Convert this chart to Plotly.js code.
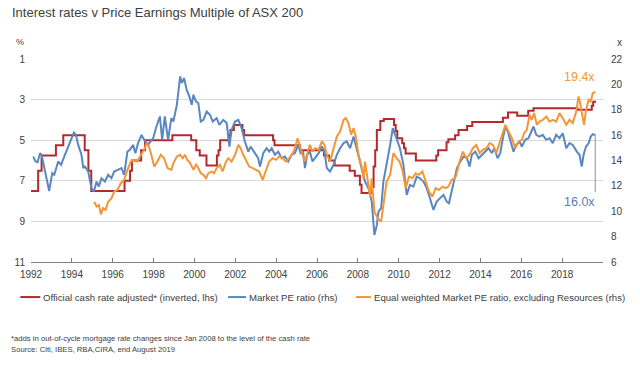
<!DOCTYPE html>
<html>
<head>
<meta charset="utf-8">
<script src="https://cdn.plot.ly/plotly-3.0.1.min.js"></script>
<style>
html,body{margin:0;padding:0;background:#fff;}
#chart{width:640px;height:367px;}
</style>
</head>
<body>
<div id="chart"></div>
<script>
// ---- Data (decimal years) ----
const cashX = [1992.0,1992.35,1992.52,1993.22,1993.58,1994.63,1994.81,1994.95,1996.58,1996.85,1996.94,1997.39,1997.58,1998.92,1999.84,2000.09,2000.26,2000.59,2001.1,2001.18,2001.26,2001.68,2001.76,2001.93,2002.35,2002.43,2003.85,2003.92,2005.17,2006.34,2006.59,2006.86,2007.6,2007.85,2008.1,2008.18,2008.68,2008.77,2008.85,2008.93,2009.1,2009.27,2009.77,2009.85,2009.93,2010.17,2010.26,2010.34,2010.84,2011.84,2011.93,2012.34,2012.43,2012.76,2012.93,2013.35,2013.6,2015.1,2015.35,2015.8,2016.34,2016.6,2018.75,2019.45,2019.52,2019.66];
const cashRate = [7.5,6.5,5.75,5.25,4.75,5.5,6.5,7.5,7.0,6.5,6.0,5.5,5.0,4.75,5.0,5.5,5.75,6.25,5.75,5.5,5.0,4.75,4.5,4.25,4.5,4.75,5.0,5.25,5.5,5.75,6.0,6.25,6.5,6.75,7.2,7.6,7.3,6.3,5.5,4.5,4.05,3.95,4.25,4.55,4.9,5.15,5.4,5.65,6.0,5.75,5.5,5.1,4.95,4.75,4.5,4.3,4.1,3.9,3.63,3.8,3.55,3.42,3.5,3.3,3.1,3.1];

const peX = [1992.11,1992.22,1992.32,1992.44,1992.52,1992.68,1992.89,1993.04,1993.14,1993.33,1993.47,1993.66,1993.82,1993.98,1994.10,1994.20,1994.31,1994.47,1994.56,1994.64,1994.80,1994.96,1995.08,1995.21,1995.32,1995.45,1995.62,1995.78,1995.94,1996.07,1996.27,1996.43,1996.56,1996.72,1996.84,1997.00,1997.11,1997.24,1997.41,1997.49,1997.73,1997.98,1998.14,1998.31,1998.42,1998.55,1998.71,1998.87,1998.97,1999.14,1999.30,1999.38,1999.49,1999.62,1999.75,1999.87,1999.95,2000.08,2000.19,2000.31,2000.44,2000.60,2000.76,2000.90,2001.09,2001.22,2001.41,2001.58,2001.71,2001.82,2001.99,2002.15,2002.31,2002.47,2002.64,2002.75,2002.96,2003.12,2003.21,2003.37,2003.53,2003.66,2003.78,2003.94,2004.10,2004.27,2004.43,2004.59,2004.76,2004.92,2005.08,2005.20,2005.32,2005.41,2005.52,2005.65,2005.78,2005.91,2006.08,2006.24,2006.37,2006.48,2006.64,2006.81,2006.97,2007.13,2007.30,2007.46,2007.62,2007.79,2007.90,2008.03,2008.19,2008.35,2008.52,2008.68,2008.81,2008.93,2009.01,2009.14,2009.25,2009.41,2009.58,2009.71,2009.82,2009.95,2010.06,2010.23,2010.39,2010.55,2010.72,2010.88,2011.04,2011.21,2011.37,2011.53,2011.70,2011.86,2012.02,2012.19,2012.35,2012.46,2012.59,2012.75,2012.85,2013.02,2013.18,2013.34,2013.47,2013.58,2013.75,2013.91,2014.07,2014.24,2014.40,2014.56,2014.68,2014.84,2014.97,2015.10,2015.22,2015.34,2015.49,2015.62,2015.75,2015.91,2016.03,2016.19,2016.35,2016.52,2016.60,2016.73,2016.89,2017.05,2017.22,2017.38,2017.54,2017.71,2017.87,2018.03,2018.20,2018.36,2018.52,2018.72,2018.85,2018.96,2019.05,2019.17,2019.30,2019.40,2019.50,2019.62];
const pe = [14.31,13.92,13.87,14.58,14.45,13.13,11.6,13.0,12.87,13.92,13.66,14.45,15.1,15.76,16.2,16.02,15.23,14.45,13.4,13.52,13.13,11.82,11.55,12.34,11.94,12.6,12.34,12.87,12.6,13.13,13.26,13.4,12.87,14.7,14.84,15.23,14.58,15.37,16.02,15.76,15.23,15.76,16.68,17.47,15.63,17.47,15.63,17.34,17.07,18.39,20.63,20.1,20.5,19.58,19.05,18.39,19.18,18.65,18.53,17.07,17.2,17.86,17.6,17.07,17.34,16.81,17.2,16.95,15.1,16.42,17.07,17.2,16.55,15.5,14.7,15.1,14.58,14.18,13.52,14.58,14.97,14.7,14.97,14.45,14.7,14.18,14.31,13.92,14.45,14.58,15.23,14.58,14.7,13.4,14.45,14.7,13.92,14.18,14.58,15.1,14.7,13.4,13.13,13.66,14.45,14.97,15.37,15.5,14.97,15.89,15.23,14.45,13.4,12.34,11.82,10.76,8.13,8.92,9.97,10.24,12.34,13.66,15.23,16.55,16.02,15.5,14.97,13.66,11.29,12.08,11.94,12.73,12.6,12.34,11.82,11.03,10.1,10.76,11.03,11.29,10.76,10.63,11.55,12.87,13.4,13.92,14.31,14.18,13.52,14.45,14.7,14.18,14.45,14.7,14.97,14.58,14.97,14.18,14.58,15.76,16.68,16.28,15.5,14.7,15.23,15.5,15.1,15.63,15.76,16.42,16.68,16.02,15.89,16.02,15.63,15.76,15.37,16.02,15.76,16.15,14.97,15.37,15.23,14.7,14.45,13.52,14.45,15.1,15.37,15.89,16.08,16.0];

const ewX = [1995.09,1995.21,1995.32,1995.42,1995.53,1995.65,1995.78,1995.94,1996.07,1996.23,1996.40,1996.56,1996.72,1996.89,1997.05,1997.21,1997.38,1997.54,1997.65,1997.77,1997.89,1998.03,1998.19,1998.35,1998.52,1998.68,1998.87,1998.97,1999.14,1999.30,1999.43,1999.54,1999.65,1999.79,1999.95,2000.08,2000.19,2000.31,2000.44,2000.57,2000.68,2000.85,2000.96,2001.09,2001.25,2001.38,2001.55,2001.66,2001.82,2001.99,2002.15,2002.26,2002.39,2002.56,2002.68,2002.85,2003.01,2003.17,2003.34,2003.50,2003.66,2003.83,2003.99,2004.15,2004.32,2004.48,2004.64,2004.81,2004.92,2005.05,2005.16,2005.29,2005.41,2005.52,2005.65,2005.78,2005.91,2006.08,2006.24,2006.37,2006.48,2006.64,2006.81,2006.97,2007.13,2007.30,2007.41,2007.54,2007.67,2007.79,2007.90,2008.03,2008.16,2008.28,2008.35,2008.49,2008.60,2008.68,2008.81,2008.97,2009.14,2009.25,2009.41,2009.58,2009.74,2009.90,2010.04,2010.18,2010.34,2010.50,2010.67,2010.83,2010.99,2011.16,2011.32,2011.48,2011.65,2011.81,2011.97,2012.14,2012.30,2012.43,2012.59,2012.75,2012.82,2012.98,2013.14,2013.31,2013.47,2013.63,2013.80,2013.96,2014.12,2014.29,2014.45,2014.61,2014.78,2014.94,2015.10,2015.22,2015.38,2015.54,2015.70,2015.87,2016.03,2016.14,2016.27,2016.40,2016.51,2016.63,2016.76,2016.89,2017.05,2017.22,2017.38,2017.54,2017.71,2017.87,2018.03,2018.20,2018.36,2018.52,2018.69,2018.80,2018.88,2018.96,2019.07,2019.17,2019.30,2019.40,2019.50,2019.62];
const ewPe = [10.76,10.37,10.5,9.76,10.24,10.1,10.76,11.03,11.55,11.68,12.21,12.47,13.26,13.92,14.05,13.92,14.45,14.84,15.37,15.1,14.45,13.52,13.92,14.45,14.18,13.4,13.26,13.79,14.31,14.45,14.18,14.45,14.05,13.79,13.26,13.66,13.4,13.0,12.87,12.6,13.0,13.13,13.0,13.4,13.66,13.13,13.92,14.18,13.92,14.45,15.23,14.97,14.45,13.92,13.52,13.4,13.26,13.13,12.47,13.26,13.92,14.18,14.05,14.31,14.18,13.92,14.18,14.58,14.97,15.76,15.1,14.45,13.92,14.58,15.23,14.7,14.97,14.84,15.5,15.23,14.45,13.92,14.97,15.89,16.28,17.2,17.34,16.95,16.02,16.55,15.89,14.45,13.66,12.6,13.92,12.34,11.15,12.6,9.97,9.45,9.18,10.5,12.34,12.87,14.58,14.18,13.92,13.26,11.82,12.73,12.6,13.0,12.87,13.13,12.34,11.55,11.15,11.82,11.68,11.94,11.82,11.94,12.47,12.6,12.87,13.92,14.7,14.18,14.45,14.97,15.23,14.58,14.84,14.97,15.37,15.23,14.58,15.37,16.15,16.81,16.28,15.76,14.97,15.5,15.63,16.15,16.42,17.6,17.2,17.74,16.81,17.07,17.2,17.47,17.07,17.2,17.07,17.74,17.34,16.81,17.2,16.95,17.86,19.05,18.53,17.86,16.81,18.0,18.79,18.65,19.31,19.4];

const seriesNames = ["Official cash rate adjusted* (inverted, lhs)", "Market PE ratio (rhs)", "Equal weighted Market PE ratio, excluding Resources (rhs)"];
const xTickVals = [1992,1994,1996,1998,2000,2002,2004,2006,2008,2010,2012,2014,2016,2018,2020];
const xTickText = ["1992","1994","1996","1998","2000","2002","2004","2006","2008","2010","2012","2014","2016","2018",""];
const leftTicks = [1,3,5,7,9,11];
const rightTicks = [6,8,10,12,14,16,18,20,22];
const peLabels = ["19.4x","16.0x"];

const RED = "#b3292e", BLUE = "#5b87c0", ORANGE = "#f39638";
const COLORS = [RED, BLUE, ORANGE];
const FONT = "Liberation Sans, Arial, sans-serif";

const traces = [
  {x: cashX, y: cashRate, name: seriesNames[0], type: "scatter", mode: "lines",
   line: {color: RED, width: 2, shape: "hv"}, yaxis: "y"},
  {x: peX, y: pe, name: seriesNames[1], type: "scatter", mode: "lines",
   line: {color: BLUE, width: 2}, yaxis: "y2"},
  {x: ewX, y: ewPe, name: seriesNames[2], type: "scatter", mode: "lines",
   line: {color: ORANGE, width: 2}, yaxis: "y2"}
];

const lastPe = pe[pe.length-1], lastX = peX[peX.length-1];

// plot area in pixels: x 30.7..603.3, y 59.3..262
const PL = 30.7, PW = 572.6, PB = 262, PH = 202.7;
const px = v => (v - PL) / PW;
const py = v => (PB - v) / PH;

// manual legend positions (pixels)
const legY = 297;
const legItems = [[20, 40], [228, 246], [356, 371]];

const shapes = [
  {type: "line", xref: "x", yref: "y2", x0: lastX, x1: lastX, y0: lastPe, y1: 11.5,
   line: {color: "#7f95b0", width: 1}}
];
const annotations = [
  {xref: "paper", yref: "paper", x: px(10), y: py(13), xanchor: "left", yanchor: "middle",
   text: "Interest rates v Price Earnings Multiple of ASX 200", showarrow: false,
   font: {family: FONT, size: 13, color: "#404040"}},
  {xref: "paper", yref: "paper", x: px(20), y: py(42.5), xanchor: "center", yanchor: "middle",
   text: "%", showarrow: false, font: {family: FONT, size: 9, color: "#404040"}},
  {xref: "paper", yref: "paper", x: px(619.5), y: py(42.5), xanchor: "center", yanchor: "middle",
   text: "x", showarrow: false, font: {family: FONT, size: 10, color: "#404040"}},
  {xref: "x", yref: "y2", x: lastX - 0.75, y: 20.6, xanchor: "center", yanchor: "middle",
   text: peLabels[0], showarrow: false, font: {family: FONT, size: 12.5, color: ORANGE}},
  {xref: "x", yref: "y2", x: lastX - 0.75, y: 10.75, xanchor: "center", yanchor: "middle",
   text: peLabels[1], showarrow: false, font: {family: FONT, size: 12.5, color: "#5f7fa8"}},
  {xref: "paper", yref: "paper", x: px(9), y: py(338.5), xanchor: "left", yanchor: "middle",
   text: "*adds in out-of-cycle mortgage rate changes since Jan 2008 to the level of the cash rate",
   showarrow: false, font: {family: FONT, size: 7.7, color: "#404040"}},
  {xref: "paper", yref: "paper", x: px(9), y: py(349), xanchor: "left", yanchor: "middle",
   text: "Source: Citi, IBES, RBA,CIRA, end August 2019",
   showarrow: false, font: {family: FONT, size: 7.7, color: "#404040"}}
];
legItems.forEach((it, i) => {
  shapes.push({type: "line", xref: "paper", yref: "paper", x0: px(it[0]), x1: px(it[1]),
    y0: py(legY), y1: py(legY), line: {color: COLORS[i], width: 2}});
  annotations.push({xref: "paper", yref: "paper", x: px(it[1] + 1), y: py(legY),
    xanchor: "left", yanchor: "middle", text: seriesNames[i], showarrow: false,
    font: {family: FONT, size: 9.6, color: "#404040"}});
});

const layout = {
  width: 640, height: 367,
  margin: {l: PL, r: 640 - PL - PW, t: 59.3, b: 367 - PB},
  paper_bgcolor: "#fff", plot_bgcolor: "#fff",
  font: {family: FONT, color: "#404040", size: 10},
  showlegend: false,
  xaxis: {range: [1992, 2020], tickvals: xTickVals, ticktext: xTickText,
    showgrid: false, zeroline: false, showline: true, linecolor: "#7f7f7f", linewidth: 1,
    ticks: "inside", ticklen: 4, tickcolor: "#7f7f7f", ticklabelstandoff: 3,
    tickfont: {family: FONT, size: 10, color: "#404040"}},
  yaxis: {range: [11, 1], tickvals: leftTicks, showgrid: true, gridcolor: "#d9d9d9", gridwidth: 1,
    zeroline: false, showline: false, ticks: "", ticklabelstandoff: 5,
    tickfont: {family: FONT, size: 10, color: "#404040"}},
  yaxis2: {range: [6, 22], tickvals: rightTicks, overlaying: "y", side: "right",
    showgrid: false, zeroline: false, showline: false, ticks: "", ticklabelstandoff: 7,
    tickfont: {family: FONT, size: 10, color: "#404040"}},
  annotations: annotations,
  shapes: shapes
};

Plotly.newPlot("chart", traces, layout, {displayModeBar: false, staticPlot: true});
</script>
</body>
</html>
